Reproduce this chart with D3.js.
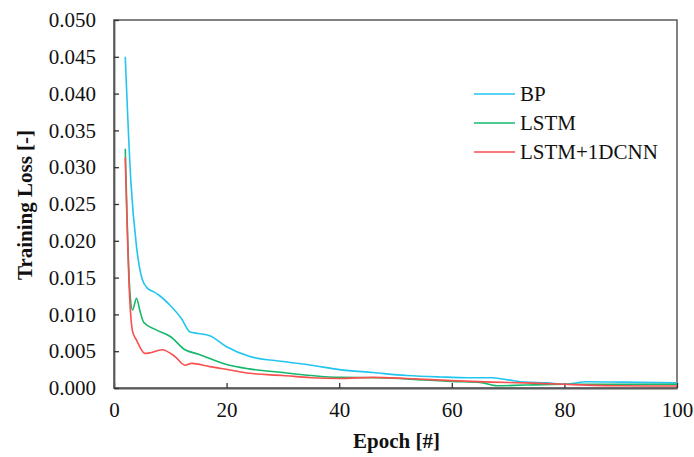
<!DOCTYPE html>
<html>
<head>
<meta charset="utf-8">
<script src="https://cdn.jsdelivr.net/npm/d3@7"></script>
<style>
  body { margin: 0; background: #fff; }
  svg text { font-family: "Liberation Serif", "Times New Roman", serif; fill: #111; }
</style>
</head>
<body>
<svg id="chart" width="694" height="457"></svg>
<script>
// values
let bpEpoch = [2, 3, 4, 5, 6, 7, 8, 10, 12, 13.5, 15, 17, 20, 24, 30, 35, 40, 46, 52, 58, 63, 67, 70, 73, 77, 80, 84, 90, 100];
let bpLoss = [0.045, 0.028, 0.0192, 0.0148, 0.0135, 0.0131, 0.0126, 0.0112, 0.0094, 0.0076, 0.0074, 0.0071, 0.0056, 0.0043, 0.0036, 0.0031, 0.0025, 0.0021, 0.0017, 0.0015, 0.0014, 0.0014, 0.0011, 0.0008, 0.0007, 0.0005, 0.00085, 0.0008, 0.0007];

let lstmEpoch = [2, 2.8, 3.3, 4, 4.6, 5.3, 7.5, 10, 12.6, 15, 20, 24, 30, 35, 40, 47, 55, 60, 65, 68, 73, 80, 90, 100];
let lstmLoss = [0.0325, 0.0133, 0.0106, 0.0122, 0.0105, 0.0089, 0.0079, 0.007, 0.0052, 0.0046, 0.0032, 0.0026, 0.0021, 0.0017, 0.00145, 0.0014, 0.0011, 0.0009, 0.00077, 0.0003, 0.0004, 0.0005, 0.0005, 0.0005];

let cnnEpoch = [2, 2.8, 3.3, 4, 5.5, 6.5, 8.5, 10.8, 12.6, 13.8, 17, 20.6, 24, 30, 35, 40, 46, 52, 60, 67, 73, 80, 90, 100];
let cnnLoss = [0.0313, 0.012, 0.0077, 0.0065, 0.0047, 0.0048, 0.0052, 0.0043, 0.0031, 0.00335, 0.0029, 0.00245, 0.002, 0.0017, 0.0014, 0.0013, 0.00145, 0.0013, 0.001, 0.0008, 0.0007, 0.0005, 0.0003, 0.00027];

let seriesNames = ["BP", "LSTM", "LSTM+1DCNN"];
let seriesColors = ["#22c5f0", "#14b86c", "#f84f4f"];
let xTicks = [0, 20, 40, 60, 80, 100];
let yTicks = [0, 0.005, 0.01, 0.015, 0.02, 0.025, 0.03, 0.035, 0.04, 0.045, 0.05];

let series = [
  {name: seriesNames[0], color: seriesColors[0], pts: bpEpoch.map((e, i) => [e, bpLoss[i]])},
  {name: seriesNames[1], color: seriesColors[1], pts: lstmEpoch.map((e, i) => [e, lstmLoss[i]])},
  {name: seriesNames[2], color: seriesColors[2], pts: cnnEpoch.map((e, i) => [e, cnnLoss[i]])},
];

let svg = d3.select("#chart");
let m = {left: 114, right: 677, top: 20, bottom: 388};

let x = d3.scaleLinear().domain([0, 100]).range([m.left, m.right]);
let y = d3.scaleLinear().domain([0, 0.05]).range([m.bottom, m.top]);

let axisColor = "#5a5a5a";

// frame
svg.append("rect")
  .attr("x", m.left).attr("y", m.top)
  .attr("width", m.right - m.left).attr("height", m.bottom - m.top)
  .attr("fill", "none").attr("stroke", axisColor).attr("stroke-width", 1.5);

// x axis
let gx = svg.append("g").attr("transform", `translate(0,${m.bottom})`)
  .call(d3.axisBottom(x).tickValues(xTicks).tickSizeInner(-5).tickSizeOuter(0).tickPadding(14).tickFormat(d3.format("d")));
gx.select(".domain").attr("stroke", axisColor).attr("stroke-width", 1.8);
gx.selectAll(".tick line").attr("stroke", "#333").attr("stroke-width", 1.3);
gx.selectAll("text").style("font-size", "21px").attr("fill", "#111");

// y axis
let gy = svg.append("g").attr("transform", `translate(${m.left},0)`)
  .call(d3.axisLeft(y).tickValues(yTicks).tickSizeInner(-5).tickSizeOuter(0).tickPadding(18).tickFormat(d3.format(".3f")));
gy.select(".domain").attr("stroke", axisColor).attr("stroke-width", 1.8);
gy.selectAll(".tick line").attr("stroke", "#333").attr("stroke-width", 1.3);
gy.selectAll("text").style("font-size", "21px").attr("fill", "#111");

// axis titles
svg.append("text")
  .attr("x", (m.left + m.right) / 2 + 1).attr("y", 448)
  .attr("text-anchor", "middle")
  .style("font-size", "21px").style("font-weight", "bold")
  .text("Epoch [#]");

svg.append("text")
  .attr("transform", `translate(32,${(m.top + m.bottom) / 2 + 1}) rotate(-90)`)
  .attr("text-anchor", "middle")
  .style("font-size", "21px").style("font-weight", "bold")
  .text("Training Loss [-]");

// lines
let line = d3.line()
  .x(d => x(d[0]))
  .y(d => y(d[1]))
  .curve(d3.curveMonotoneX);

svg.append("g").selectAll("path")
  .data(series)
  .join("path")
  .attr("d", d => line(d.pts))
  .attr("fill", "none")
  .attr("stroke", d => d.color)
  .attr("stroke-width", 1.6);

// legend
let lg = svg.append("g").attr("transform", "translate(474,94)");
let item = lg.selectAll("g").data(series).join("g")
  .attr("transform", (d, i) => `translate(0,${i * 29})`);
item.append("line")
  .attr("x1", 0).attr("x2", 41)
  .attr("stroke", d => d.color).attr("stroke-width", 1.6);
item.append("text")
  .attr("x", 46).attr("y", 7)
  .style("font-size", "21px")
  .text(d => d.name);
</script>
</body>
</html>
